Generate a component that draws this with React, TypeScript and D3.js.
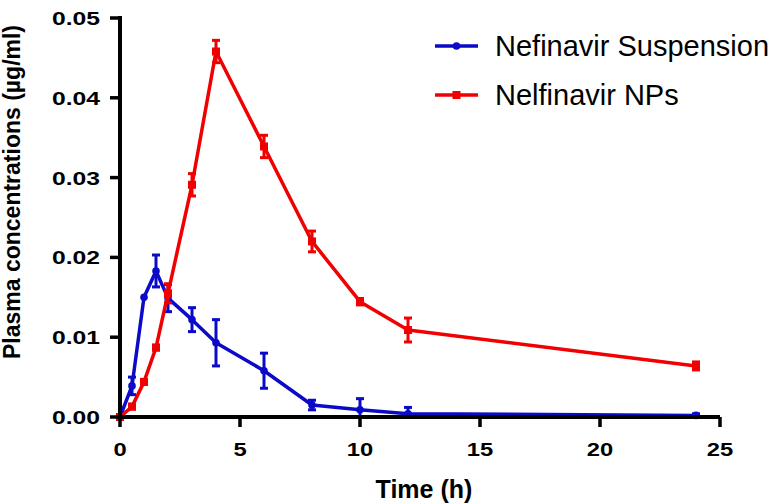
import React from "react";
import * as d3 from "d3";

const times = [0, 0.5, 1, 1.5, 2, 3, 4, 6, 8, 10, 12, 24];
const suspensionMean = [0, 0.0039, 0.015, 0.0183, 0.0149, 0.0122, 0.0093, 0.0058, 0.0015, 0.0009, 0.0004, 0.0002];
const suspensionErr = [0, 0.0011, 0, 0.002, 0.0017, 0.0015, 0.0029, 0.0022, 0.0006, 0.0014, 0.0008, 0.0002];
const npsMean = [0, 0.0013, 0.0044, 0.0087, 0.0155, 0.0291, 0.0458, 0.0339, 0.022, 0.01445, 0.0109, 0.0064];
const npsErr = [0, 0.0003, 0.0003, 0.0003, 0.0012, 0.0014, 0.0014, 0.0014, 0.0013, 0.0004, 0.0015, 0.0005];
const xTicks = [0, 5, 10, 15, 20, 25];
const yTicks = [0, 0.01, 0.02, 0.03, 0.04, 0.05];
const seriesNames = ["Nefinavir Suspension", "Nelfinavir NPs"];

const BLUE = "#0a0ac8";
const RED = "#f00000";
const FONT = "'Liberation Sans', Arial, sans-serif";

export default function App() {
  const x = d3.scaleLinear().domain([0, 25]).range([120, 720]);
  const y = d3.scaleLinear().domain([0, 0.05]).range([417, 18]);
  const line = d3
    .line<[number, number]>()
    .x((d) => x(d[0]))
    .y((d) => y(d[1]));

  const series = [
    { name: seriesNames[0], mean: suspensionMean, err: suspensionErr, color: BLUE, marker: "circle" },
    { name: seriesNames[1], mean: npsMean, err: npsErr, color: RED, marker: "square" },
  ];

  return (
    <svg
      width={771}
      height={504}
      style={{ position: "absolute", left: 0, top: 0, background: "#fff" }}
      fontFamily={FONT}
    >
      {/* series */}
      {series.map((s) => {
        const pts: [number, number][] = times.map((t, i) => [t, s.mean[i]]);
        return (
          <g key={s.name}>
            <path d={line(pts) || ""} fill="none" stroke={s.color} strokeWidth={3.5} strokeLinejoin="round" />
            {times.map((t, i) => {
              const e = s.err[i];
              if (!e) return null;
              const cx = x(t);
              const y1 = y(s.mean[i] + e);
              const y2 = y(Math.max(0, s.mean[i] - e));
              return (
                <g key={"e" + i} stroke={s.color} strokeWidth={3}>
                  <line x1={cx} x2={cx} y1={y1} y2={y2} />
                  <line x1={cx - 4} x2={cx + 4} y1={y1} y2={y1} />
                  <line x1={cx - 4} x2={cx + 4} y1={y2} y2={y2} />
                </g>
              );
            })}
            {times.map((t, i) =>
              s.marker === "circle" ? (
                <circle key={"m" + i} cx={x(t)} cy={y(s.mean[i])} r={3.8} fill={s.color} />
              ) : (
                <rect key={"m" + i} x={x(t) - 4} y={y(s.mean[i]) - 4} width={8} height={8} fill={s.color} />
              )
            )}
          </g>
        );
      })}

      {/* axes */}
      <g stroke="#000" strokeWidth={4}>
        <line x1={x(0)} x2={x(25)} y1={y(0)} y2={y(0)} />
        <line x1={x(0)} x2={x(0)} y1={y(0)} y2={y(0.05)} strokeLinecap="square" />
        {xTicks.map((t) => (
          <line key={"xt" + t} x1={x(t)} x2={x(t)} y1={y(0)} y2={y(0) + 10} strokeWidth={3.5} />
        ))}
        {yTicks.map((v) => (
          <line key={"yt" + v} x1={x(0) - 10} x2={x(0)} y1={y(v)} y2={y(v)} strokeWidth={3.5} />
        ))}
      </g>
      {xTicks.map((t) => (
        <text
          key={"xl" + t}
          transform={`translate(${x(t)}, 456) scale(1.25, 1)`}
          textAnchor="middle"
          fontSize={19}
          fontWeight="bold"
          fill="#000"
        >
          {t}
        </text>
      ))}
      {yTicks.map((v) => (
        <text
          key={"yl" + v}
          transform={`translate(100, ${y(v) + 7}) scale(1.3, 1)`}
          textAnchor="end"
          fontSize={19}
          fontWeight="bold"
          fill="#000"
        >
          {v.toFixed(2)}
        </text>
      ))}
      <text x={424} y={498} textAnchor="middle" fontSize={25} fontWeight="bold" fill="#000">
        Time (h)
      </text>
      <text
        transform={`translate(20, 192) rotate(-90)`}
        textAnchor="middle"
        fontSize={23}
        fontWeight="bold"
        fill="#000"
      >
        Plasma concentrations (µg/ml)
      </text>

      {/* legend */}
      {series.map((s, i) => {
        const ly = 46 + i * 49;
        return (
          <g key={"lg" + i}>
            <line x1={435} x2={478} y1={ly} y2={ly} stroke={s.color} strokeWidth={3.5} />
            {s.marker === "circle" ? (
              <circle cx={456.5} cy={ly} r={3.8} fill={s.color} />
            ) : (
              <rect x={452.5} y={ly - 4} width={8} height={8} fill={s.color} />
            )}
            <text x={495} y={ly + 10} fontSize={29} fill="#000">
              {s.name}
            </text>
          </g>
        );
      })}
    </svg>
  );
}
